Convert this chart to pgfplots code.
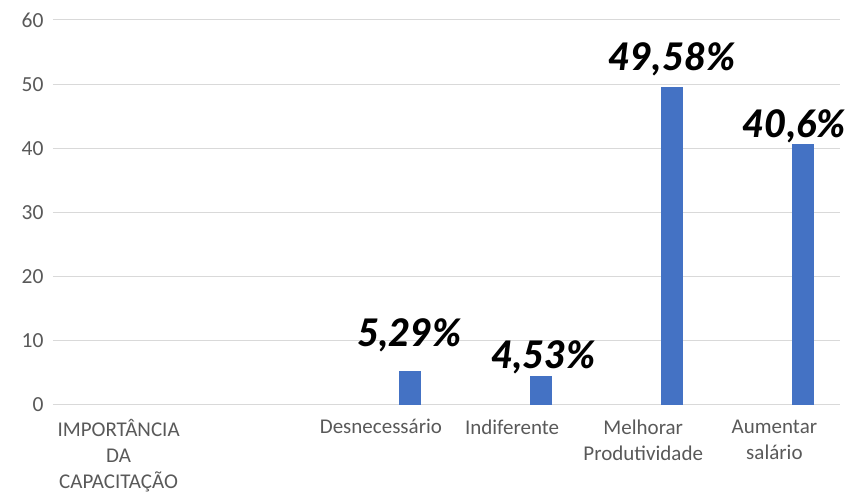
\documentclass[border=0pt]{standalone}
\usepackage{fontspec}
\setmainfont{Carlito}
\newfontfamily\labfont{Lato Black Italic}
\usepackage{pgfplots}
\pgfplotsset{compat=1.18}
\definecolor{barblue}{HTML}{4472C4}
\definecolor{txtgray}{HTML}{595959}
\definecolor{gridgray}{HTML}{D9D9D9}
\begin{document}
\begin{tikzpicture}
\begin{axis}[
  scale only axis,
  width=787pt, height=385pt,
  xmin=-0.5, xmax=5.5,
  ymin=0, ymax=60,
  ytick={0,10,...,60},
  xtick={0,1,2,3,4,5},
  xticklabels={{IMPORTÂNCIA\\DA\\CAPACITAÇÃO},{},Desnecessário,Indiferente,{Melhorar\\Produtividade},{Aumentar\\salário}},
  x tick label style={align=center, font=\fontsize{21}{26}\selectfont, text=txtgray, anchor=north, yshift=-11pt},
  y tick label style={font=\fontsize{21.5}{24}\selectfont, text=txtgray, xshift=-6pt},
  /pgf/number format/assume math mode=true,
  major tick length=0pt,
  axis line style={draw=none},
  ymajorgrids,
  major grid style={gridgray, line width=1pt},
  clip=false,
]
\addplot[ybar, bar width=0.17, bar shift=0pt, fill=barblue, draw=none,
  nodes near coords, point meta=explicit symbolic,
  every node near coord/.style={anchor=center, yshift=36pt, font=\labfont\fontsize{38}{40}\selectfont, text=black}]
  coordinates {(2.22,5.29) [5,29\%]};
\addplot[ybar, bar width=0.17, bar shift=0pt, fill=barblue, draw=none,
  nodes near coords, point meta=explicit symbolic,
  every node near coord/.style={anchor=center, yshift=19pt, xshift=3pt, font=\labfont\fontsize{38}{40}\selectfont, text=black}]
  coordinates {(3.22,4.53) [4,53\%]};
\addplot[ybar, bar width=0.17, bar shift=0pt, fill=barblue, draw=none,
  nodes near coords, point meta=explicit symbolic,
  every node near coord/.style={anchor=center, yshift=28pt, font=\labfont\fontsize{38}{40}\selectfont, text=black}]
  coordinates {(4.22,49.58) [49,58\%]};
\addplot[ybar, bar width=0.17, bar shift=0pt, fill=barblue, draw=none,
  nodes near coords, point meta=explicit symbolic,
  every node near coord/.style={anchor=center, yshift=18pt, xshift=-9pt, font=\labfont\fontsize{38}{40}\selectfont, text=black}]
  coordinates {(5.22,40.6) [40,6\%]};
\end{axis}
\pgfresetboundingbox
\useasboundingbox (-53pt,-89pt) rectangle (797pt,405pt);
\end{tikzpicture}
\end{document}
